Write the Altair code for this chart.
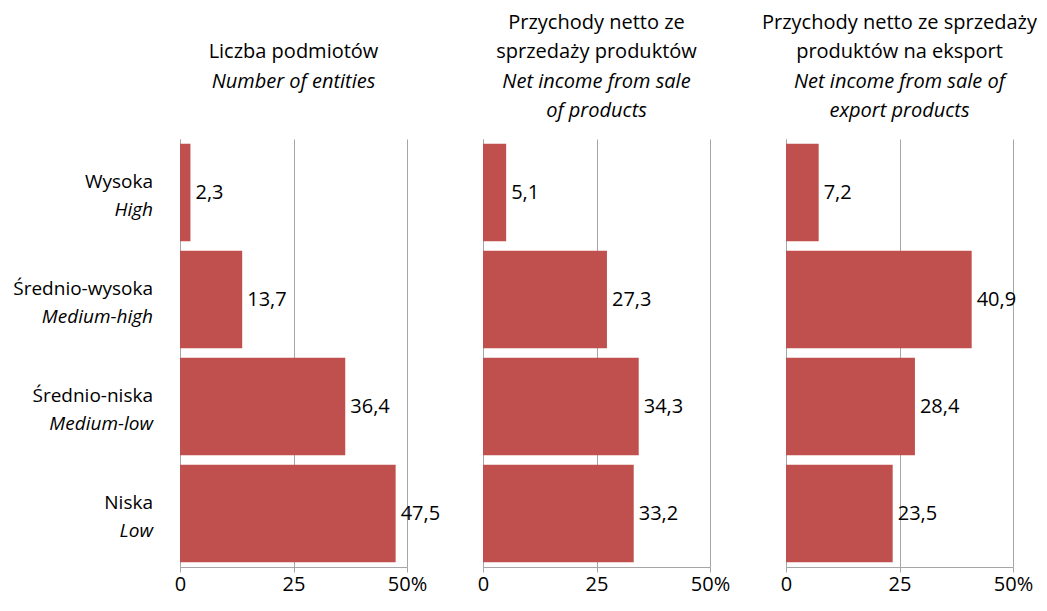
import altair as alt
import pandas as pd

categories_pl = ["Wysoka", "Średnio-wysoka", "Średnio-niska", "Niska"]
categories_en = ["High", "Medium-high", "Medium-low", "Low"]

entities = [2.3, 13.7, 36.4, 47.5]
income = [5.1, 27.3, 34.3, 33.2]
export = [7.2, 40.9, 28.4, 23.5]

FONT = "Open Sans"
FS = 20
LFS = 19
RED = "#C0504D"
GRID = "#A6A6A6"


def make_df(values):
    return pd.DataFrame({"cat": categories_pl, "en": categories_en, "value": values})


def panel(values, title_lines, subtitle_lines, offset, with_labels):
    df = make_df(values)
    yenc = alt.Y(
        "cat:N",
        sort=categories_pl,
        scale=alt.Scale(paddingInner=0.09, paddingOuter=0.045),
        axis=alt.Axis(labels=False, ticks=False, title=None, grid=False,
                      domainColor=GRID, domainWidth=1),
    )
    xenc = alt.X(
        "value:Q",
        scale=alt.Scale(domain=[0, 50], nice=False),
        axis=alt.Axis(
            values=[0, 25, 50], title=None, grid=True, gridColor=GRID,
            domainColor=GRID, tickColor=GRID, tickSize=5,
            labelFontSize=FS, labelFont=FONT, labelColor="black",
            labelPadding=2, labelFlush=False,
            labelExpr="datum.value == 50 ? '50%' : datum.label",
        ),
    )
    base = alt.Chart(df).transform_calculate(
        lab="replace(format(datum.value, '.1f'), '.', ',')"
    ).encode(y=yenc, x=xenc)
    bars = base.mark_bar(color=RED)
    txt = base.mark_text(align="left", baseline="middle", dx=5, fontSize=FS,
                         font=FONT, color="black").encode(text="lab:N")
    layers = [bars, txt]
    if with_labels:
        l1 = base.mark_text(align="right", baseline="middle", dy=-11, fontSize=LFS,
                            font=FONT, color="black").encode(
            x=alt.value(-27), text="cat:N")
        l2 = base.mark_text(align="right", baseline="middle", dy=17, fontSize=LFS,
                            font=FONT, color="black", fontStyle="italic").encode(
            x=alt.value(-27), text="en:N")
        layers += [l1, l2]
    return alt.layer(*layers).properties(
        width=227, height=428,
        title=alt.TitleParams(
            text=title_lines, subtitle=subtitle_lines,
            font=FONT, subtitleFont=FONT, fontSize=FS, subtitleFontSize=FS,
            fontWeight="normal", subtitleFontStyle="italic",
            color="black", subtitleColor="black",
            lineHeight=29, subtitleLineHeight=29, subtitlePadding=10,
            anchor="middle", offset=offset,
        ),
    )


p1 = panel(entities, ["Liczba podmiotów"], ["Number of entities"], 47, True)
p2 = panel(income, ["Przychody netto ze", "sprzedaży produktów"],
           ["Net income from sale", "of products"], 18, False)
p3 = panel(export, ["Przychody netto ze sprzedaży", "produktów na eksport"],
           ["Net income from sale of", "export products"], 18, False)

chart = alt.hconcat(p1, p2, p3, spacing=76, bounds="flush").properties(
    padding={"left": 5, "top": 5, "right": 0, "bottom": 0}
).configure_view(stroke=None)

chart.save("out.html", embed_options={"renderer": "svg", "actions": False})
